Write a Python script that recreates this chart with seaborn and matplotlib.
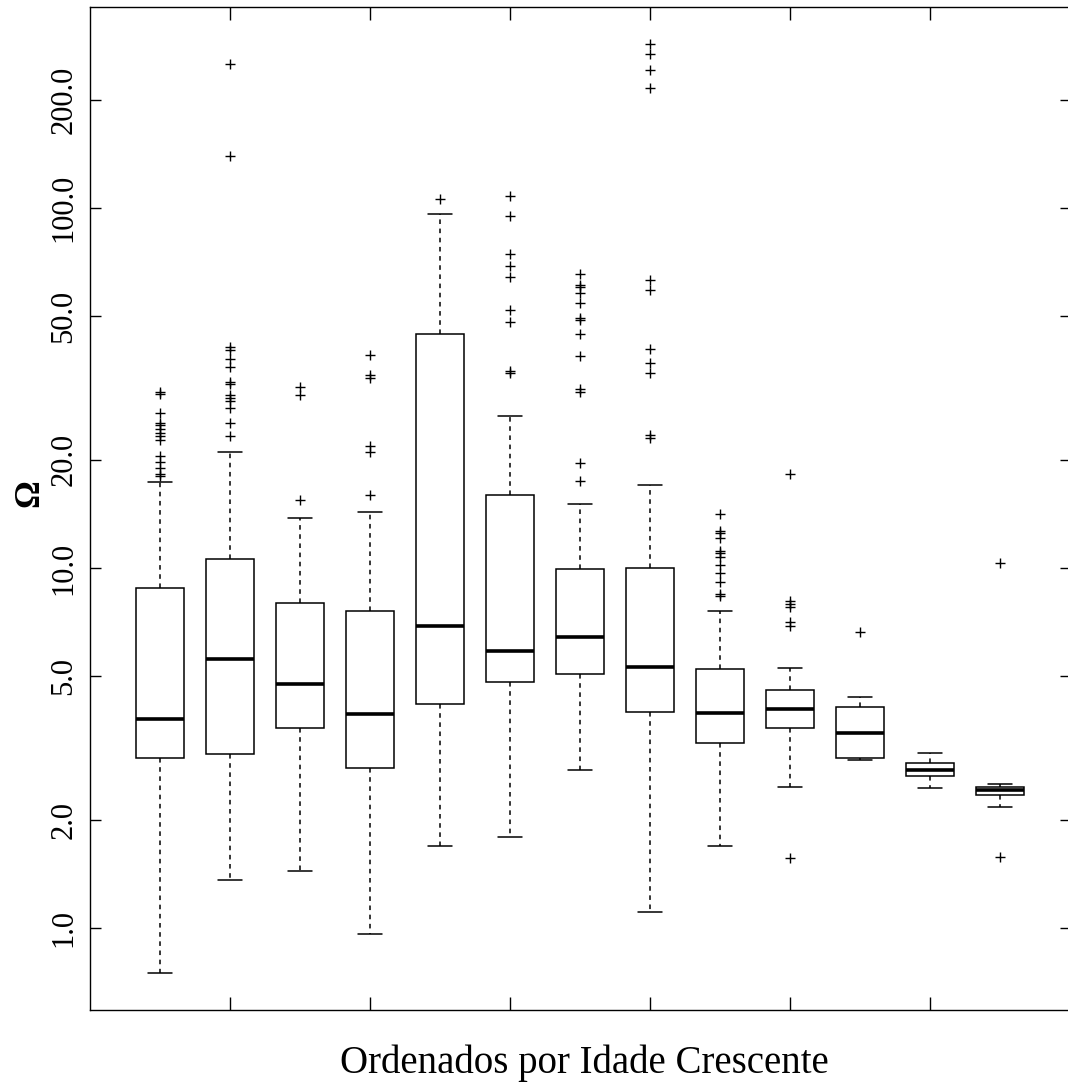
import matplotlib
matplotlib.use("Agg")
import matplotlib.pyplot as plt
import seaborn as sns
import pandas as pd
from matplotlib.ticker import NullLocator

# grupos ordenados por idade crescente
groups = [str(i) for i in range(1, 14)]

# estatisticas (escala original, nao log)
q1 = [2.97, 3.04, 3.59, 2.79, 4.19, 4.81, 5.09, 3.98, 3.26, 3.59, 2.96, 2.65, 2.34]
med = [3.81, 5.58, 4.77, 3.94, 6.92, 5.87, 6.42, 5.32, 3.96, 4.05, 3.49, 2.74, 2.41]
q3 = [8.81, 10.6, 7.98, 7.58, 44.7, 16.0, 9.94, 9.97, 5.23, 4.58, 4.12, 2.87, 2.47]
lo = [0.751, 1.36, 1.44, 0.96, 1.69, 1.79, 2.74, 1.11, 1.69, 2.47, 2.92, 2.45, 2.17]
hi = [17.3, 21.0, 13.8, 14.3, 96.4, 26.4, 15.1, 17.0, 7.60, 5.28, 4.39, 3.06, 2.52]

fliers = [
    [30.9, 30.4, 27.0, 25.2, 24.9, 24.4, 23.7, 23.2, 22.7, 20.5, 19.7, 19.0, 18.2, 18.0],
    [251, 139, 41.0, 40.3, 38.0, 36.2, 32.9, 32.4, 30.2, 29.7, 29.1, 27.9, 25.3, 23.2],
    [31.9, 30.2, 15.4],
    [39.0, 34.3, 33.8, 21.8, 21.0, 16.0],
    [106],
    [108, 95.2, 74.6, 69.0, 64.5, 52.1, 48.2, 35.2, 34.7],
    [65.4, 61.1, 60.2, 58.2, 54.6, 49.6, 48.9, 44.8, 38.8, 31.4, 30.9, 19.6, 17.5],
    [285, 267, 242, 215, 63.2, 59.3, 40.7, 37.0, 34.7, 23.4, 23.0],
    [14.1, 12.7, 12.5, 12.1, 11.15, 10.99, 10.75, 10.17, 9.66, 9.14, 8.45, 8.38],
    [18.2, 8.10, 7.94, 7.78, 7.06, 6.90, 1.57],
    [6.63],
    [],
    [10.3, 1.58],
]

yticks = [1, 2, 5, 10, 20, 50, 100, 200]
ytick_labels = ["1.0", "2.0", "5.0", "10.0", "20.0", "50.0", "100.0", "200.0"]

sns.set_style("ticks")
plt.rcParams['font.family'] = ['Liberation Serif', 'DejaVu Serif']
plt.rcParams['text.color'] = 'black'
plt.rcParams['xtick.color'] = 'black'
plt.rcParams['ytick.color'] = 'black'
plt.rcParams['axes.edgecolor'] = 'black'

# tabela longa que reproduz os quartis, bigodes e outliers lidos
rows = []
for g, a, m, b, w0, w1, fl in zip(groups, q1, med, q3, lo, hi, fliers):
    vals = [w0, w1] + [a] * 100 + [m] * 100 + [b] * 100 + fl
    rows += [(g, v) for v in vals]
df = pd.DataFrame(rows, columns=["grupo", "omega"])

fig = plt.figure(figsize=(10.68, 10.82), dpi=100)
ax = fig.add_axes([90 / 1068, 72 / 1082, 981 / 1068, 1003 / 1082])

sns.boxplot(data=df, x="grupo", y="omega", order=groups, ax=ax, width=0.69,
            color="white", linecolor="black", linewidth=1.1, whis=1.5,
            whiskerprops=dict(linestyle=(0, (3, 3)), color="black"),
            medianprops=dict(linewidth=2.6, color="black"),
            flierprops=dict(marker="+", markersize=7, markeredgewidth=1,
                            markeredgecolor="black", color="black"))
ax.set_yscale("log")

ax.set_ylim(0.592, 361.6)
ax.set_xlim(-1.0, 13.01)
ax.set_yticks(yticks, labels=ytick_labels)
ax.yaxis.set_minor_locator(NullLocator())
ax.tick_params(axis='y', which='major', direction='in', length=8, width=1,
               left=True, right=True, labelsize=22, pad=8.5, labelrotation=90,
               labelcolor='black')
for lab in ax.get_yticklabels():
    lab.set_va('center')
ax.set_xticks([1, 3, 5, 7, 9, 11], labels=[])
ax.tick_params(axis='x', direction='in', length=9.5, width=1, top=True, bottom=True)
ax.set_xlabel("")
ax.set_ylabel("")
for s in ax.spines.values():
    s.set_visible(True)
    s.set_linewidth(1)
    s.set_color("black")

fig.text(584 / 1068, 1 - 1073 / 1082, "Ordenados por Idade Crescente",
         ha='center', va='baseline', fontsize=28, color='black')
fig.text(30 / 1068, 1 - 493 / 1082, "Ω", rotation=90, ha='center', va='center',
         fontsize=25, fontweight='bold', color='black')

fig.savefig("out.png", dpi=100)
